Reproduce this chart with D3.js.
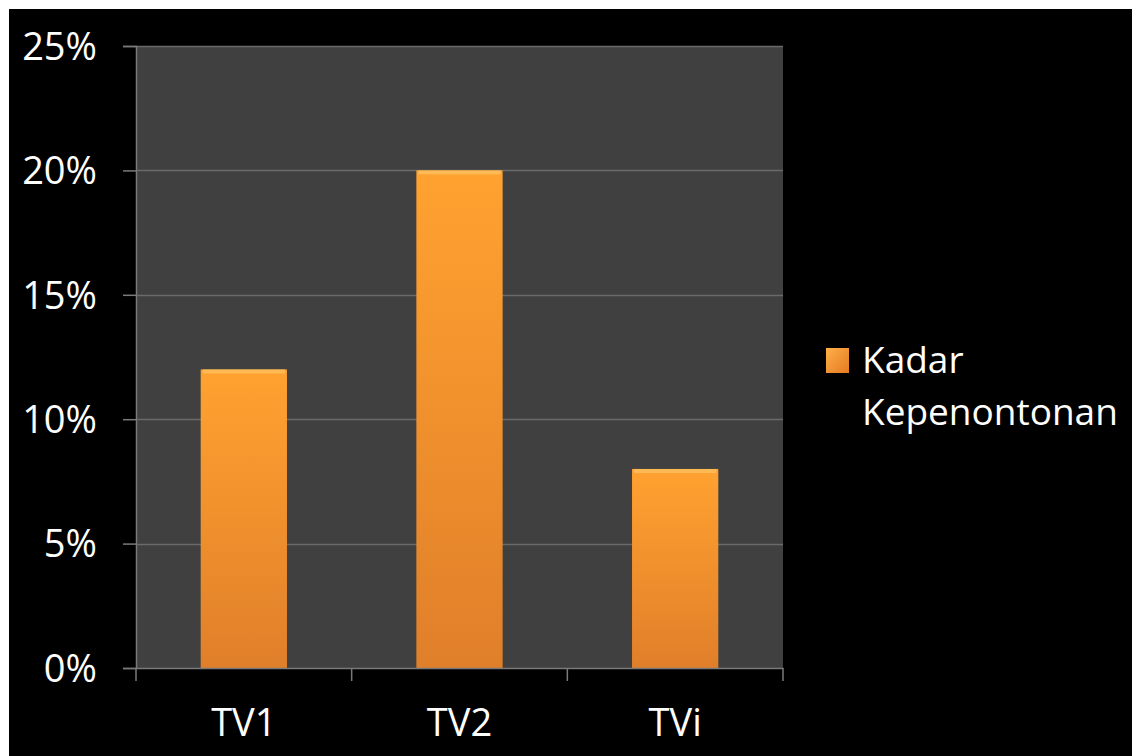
<!DOCTYPE html>
<html lang="ms">
<head>
<meta charset="UTF-8">
<title>Kadar Kepenontonan</title>
<script src="https://d3js.org/d3.v7.min.js"></script>
<style>
  html, body { margin: 0; padding: 0; background: #fff; }
  svg { display: block; }
</style>
</head>
<body>
<script>
// data
var saluran = ["TV1", "TV2", "TVi"];
var kadar = [0.12, 0.20, 0.08];
var tickNilai = [0, 0.05, 0.10, 0.15, 0.20, 0.25];
var namaSiri = ["Kadar", "Kepenontonan"];

var lebar = 1132, tinggi = 756;
var kiri = 136, kanan = 783, atas = 46, bawah = 668;
var huruf = "'Open Sans', 'DejaVu Sans', sans-serif";

var svg = d3.select("body").append("svg")
  .attr("width", lebar).attr("height", tinggi);

// latar hitam, dengan jalur putih di kiri dan atas
svg.append("rect").attr("x", 9).attr("y", 9)
  .attr("width", lebar - 9).attr("height", tinggi - 9).attr("fill", "#000");

var defs = svg.append("defs");
var grad = defs.append("linearGradient").attr("id", "oren")
  .attr("x1", 0).attr("y1", 0).attr("x2", 0).attr("y2", 1);
grad.append("stop").attr("offset", "0%").attr("stop-color", "#ffa230");
grad.append("stop").attr("offset", "100%").attr("stop-color", "#e07f2a");

var gradL = defs.append("linearGradient").attr("id", "orenL")
  .attr("x1", 0).attr("y1", 0).attr("x2", 1).attr("y2", 1);
gradL.append("stop").attr("offset", "0%").attr("stop-color", "#ffb048");
gradL.append("stop").attr("offset", "100%").attr("stop-color", "#e47a22");

var x = d3.scaleBand().domain(saluran).range([kiri, kanan]).paddingInner(0.6).paddingOuter(0.3);
var y = d3.scaleLinear().domain([0, 0.25]).range([bawah, atas]);

// kawasan plot
svg.append("rect").attr("x", kiri).attr("y", atas)
  .attr("width", kanan - kiri).attr("height", bawah - atas).attr("fill", "#404040");

// garis grid
svg.append("g").selectAll("line").data(tickNilai.filter(function(d){ return d > 0; }))
  .enter().append("line")
  .attr("x1", kiri).attr("x2", kanan)
  .attr("y1", function(d){ return Math.round(y(d)) + 0.5; })
  .attr("y2", function(d){ return Math.round(y(d)) + 0.5; })
  .attr("stroke", "#6a6a6a").attr("stroke-width", 1.5);

// bar
var bar = svg.append("g").selectAll("g").data(saluran).enter().append("g");
bar.append("rect")
  .attr("x", function(d){ return x(d); })
  .attr("y", function(d, i){ return y(kadar[i]); })
  .attr("width", x.bandwidth())
  .attr("height", function(d, i){ return bawah - y(kadar[i]); })
  .attr("fill", "url(#oren)");
// serlahan atas
bar.append("rect")
  .attr("x", function(d){ return x(d) + 2; })
  .attr("y", function(d, i){ return y(kadar[i]); })
  .attr("width", x.bandwidth() - 4)
  .attr("height", 4)
  .attr("fill", "#ffc060").attr("opacity", 0.8);

// paksi Y
var paksiY = d3.axisLeft(y).tickValues(tickNilai)
  .tickFormat(d3.format(".0%")).tickSize(13).tickPadding(26);
var gy = svg.append("g").attr("transform", "translate(" + kiri + ",0)").call(paksiY);
gy.select(".domain").attr("stroke", "#7a7a7a").attr("stroke-width", 1.5);
gy.selectAll(".tick line").attr("stroke", "#7a7a7a").attr("stroke-width", 1.5);
gy.selectAll(".tick text").attr("fill", "#fff").attr("font-family", huruf)
  .attr("font-size", 38).attr("dy", "0.35em");

// paksi X
var paksiX = d3.axisBottom(x).tickSize(0).tickPadding(41);
var gx = svg.append("g").attr("transform", "translate(0," + bawah + ")").call(paksiX);
gx.select(".domain").attr("stroke", "#7a7a7a").attr("stroke-width", 1.5);
gx.selectAll(".tick text").attr("fill", "#fff").attr("font-family", huruf)
  .attr("font-size", 38);
// tanda sempadan kategori
var sempadan = [kiri].concat(saluran.map(function(d){ return x(d) + x.bandwidth() + x.step() * x.paddingInner() / 2; }));
sempadan[sempadan.length - 1] = kanan;
gx.selectAll("line.sempadan").data(sempadan).enter().append("line")
  .attr("class", "sempadan")
  .attr("x1", function(d){ return d; }).attr("x2", function(d){ return d; })
  .attr("y1", 0).attr("y2", 13)
  .attr("stroke", "#7a7a7a").attr("stroke-width", 1.5);

// legenda
var leg = svg.append("g").attr("transform", "translate(826,348)");
leg.append("rect").attr("width", 23).attr("height", 25).attr("fill", "url(#orenL)");
leg.selectAll("text").data(namaSiri).enter().append("text")
  .attr("x", 36).attr("y", function(d, i){ return 25 + i * 52; })
  .attr("fill", "#fff").attr("font-family", huruf).attr("font-size", 37)
  .text(function(d){ return d; });
</script>
</body>
</html>
